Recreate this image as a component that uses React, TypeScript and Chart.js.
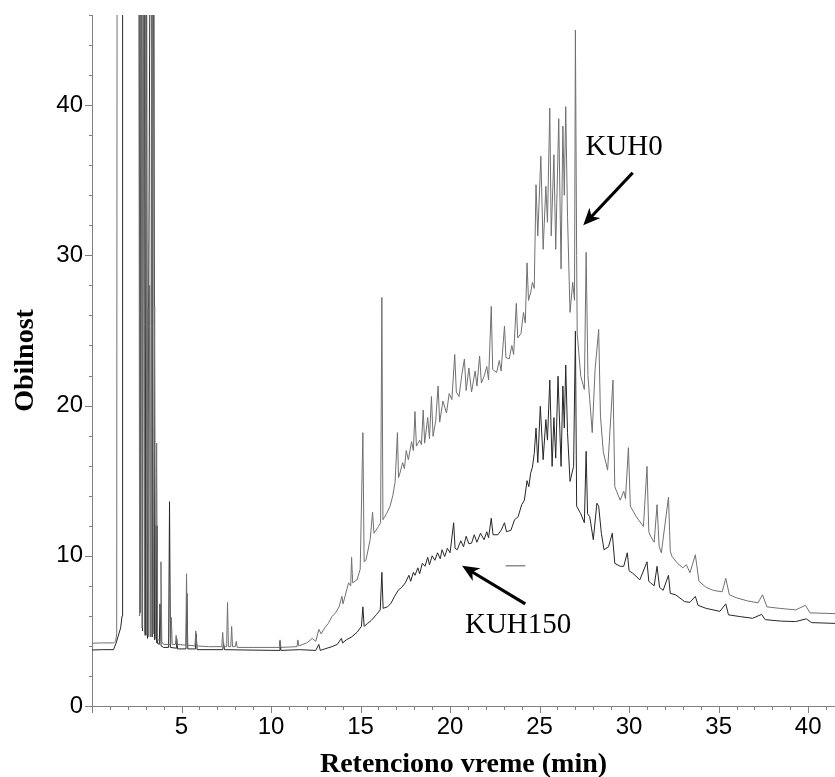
import React, { useEffect, useRef } from 'react';
import { Chart, registerables } from 'chart.js';

Chart.register(...registerables);

// Retention time (min) / abundance pairs
const kuh0: [number, number][] = [
  [0, 4.18], [0.6, 4.2], [1.2, 4.2], [1.32, 4.3], [1.38, 4.8], [1.41, 70],
  [2.6, 70], [2.66, 6.0], [2.72, 70], [2.8, 5.2], [2.86, 70], [2.93, 4.9], [3.0, 70], [3.06, 4.7],
  [3.12, 26.5], [3.17, 4.6], [3.22, 28], [3.27, 4.6], [3.36, 70], [3.42, 4.8], [3.5, 26.6], [3.55, 4.5],
  [3.61, 17.5], [3.66, 4.4], [3.8, 4.4], [3.85, 9.6], [3.9, 4.3], [4.0, 4.1],
  [4.4, 4.1], [4.43, 5.9], [4.48, 4.1], [4.66, 4.1], [4.7, 4.7], [4.75, 4.1], [5.24, 4.05], [5.28, 8.8],
  [5.33, 4.05], [5.75, 4.0], [5.8, 5.0], [5.85, 4.0], [6.5, 3.95], [7.25, 3.95], [7.3, 4.9], [7.35, 3.95],
  [7.52, 3.95], [7.57, 6.9], [7.62, 3.95], [7.75, 3.95], [7.8, 5.3], [7.85, 3.95], [8.0, 3.95], [8.06, 4.3],
  [8.11, 3.9], [9.0, 3.9], [10.45, 3.9], [10.5, 4.4], [10.55, 3.9], [11.45, 3.95], [11.5, 4.4], [11.55, 4.0],
  [12.0, 4.2], [12.3, 4.5], [12.5, 4.3], [12.67, 5.1], [12.8, 4.8], [13.0, 5.2], [13.2, 5.5], [13.4, 5.95],
  [13.6, 6.2], [13.8, 6.6], [13.96, 7.3], [14.02, 6.8], [14.2, 7.6], [14.33, 8.2], [14.45, 8.0], [14.5, 9.9],
  [14.56, 8.2], [14.8, 8.4], [14.98, 9.1], [15.13, 18.2], [15.2, 9.6], [15.3, 9.7], [15.54, 11.1], [15.67, 12.9],
  [15.75, 11.5], [16.0, 11.95], [16.12, 12.2], [16.19, 27.2], [16.25, 12.4], [16.45, 12.8], [16.65, 13.3],
  [16.8, 14.0], [16.93, 14.9], [17.06, 18.2], [17.12, 15.2], [17.2, 15.5], [17.35, 16.2], [17.45, 15.8],
  [17.55, 17.0], [17.67, 16.4], [17.85, 17.6], [17.95, 17.0], [18.04, 19.6], [18.12, 17.3], [18.3, 17.7],
  [18.4, 17.4], [18.5, 19.7], [18.58, 17.5], [18.75, 19.2], [18.85, 17.8], [18.96, 20.6], [19.05, 17.95],
  [19.2, 19.0], [19.33, 21.3], [19.42, 18.9], [19.6, 20.3], [19.8, 19.5], [19.95, 20.8], [20.1, 20.4],
  [20.26, 23.4], [20.35, 20.9], [20.5, 20.6], [20.65, 22.0], [20.8, 23.1], [20.9, 21.0], [21.05, 22.5],
  [21.2, 20.9], [21.4, 22.3], [21.5, 21.3], [21.65, 23.3], [21.75, 21.5], [21.9, 21.95], [22.05, 22.6],
  [22.15, 21.7], [22.3, 26.6], [22.38, 22.4], [22.6, 22.2], [22.75, 23.0], [22.85, 22.3], [23.04, 25.3],
  [23.12, 23.2], [23.3, 23.1], [23.45, 24.0], [23.55, 23.4], [23.7, 26.8], [23.78, 24.5], [23.96, 24.8],
  [24.1, 26.2], [24.2, 25.5], [24.3, 29.5], [24.38, 27.0], [24.5, 27.5], [24.6, 28.2], [24.7, 27.8],
  [24.8, 34.7], [24.9, 31.3], [25.07, 36.6], [25.2, 30.4], [25.35, 34.6], [25.44, 32.2], [25.57, 39.8],
  [25.65, 31.3], [25.8, 36.7], [25.9, 30.4], [26.07, 39.1], [26.2, 29.1], [26.3, 38.6], [26.38, 34.0],
  [26.46, 39.9], [26.56, 32.6], [26.7, 26.2], [26.85, 28.2], [26.95, 27.0], [27.0, 45.0], [27.07, 30.0],
  [27.1, 24.8], [27.3, 21.95], [27.5, 21.07], [27.6, 30.2], [27.7, 22.0], [27.8, 20.4], [27.94, 18.2],
  [28.1, 22.4], [28.3, 25.07], [28.4, 19.3], [28.56, 16.9], [28.8, 15.7], [28.9, 17.7], [29.1, 21.7],
  [29.2, 14.6], [29.5, 13.7], [29.7, 14.3], [29.8, 13.8], [29.96, 17.2], [30.07, 13.3], [30.4, 12.6],
  [30.8, 11.95], [31.0, 15.95], [31.1, 11.6], [31.2, 11.3], [31.4, 10.9], [31.56, 13.4], [31.68, 10.6],
  [31.8, 10.2], [32.2, 13.9], [32.3, 10.3], [32.4, 9.95], [32.7, 9.5], [33.0, 9.2], [33.2, 9.4],
  [33.4, 8.87], [33.7, 10.07], [33.9, 8.3], [34.3, 7.9], [34.7, 7.7], [35.2, 7.6], [35.4, 8.5], [35.6, 7.4],
  [36.0, 7.2], [36.6, 7.0], [37.2, 6.87], [37.45, 7.4], [37.7, 6.6], [38.4, 6.5], [39.3, 6.4], [39.85, 6.7],
  [40.1, 6.2], [41.5, 6.15],
];

const kuh150: [number, number][] = [
  [0, 3.73], [0.6, 3.75], [1.2, 3.75], [1.35, 4.2], [1.45, 4.6], [1.6, 5.2], [1.68, 6.0], [1.71, 70],
  [2.62, 70], [2.68, 6.2], [2.75, 70], [2.82, 5.0], [2.9, 70], [2.97, 4.7], [3.04, 60], [3.1, 4.5],
  [3.3, 70], [3.36, 4.6], [3.44, 70], [3.5, 4.4], [3.58, 12.0], [3.63, 4.2], [3.76, 4.1], [3.8, 6.8],
  [3.86, 4.0], [4.0, 3.9], [4.28, 3.9], [4.33, 13.6], [4.38, 3.9], [4.7, 3.85], [4.73, 4.5], [4.78, 3.8],
  [5.25, 3.8], [5.3, 7.5], [5.35, 3.8], [5.78, 3.8], [5.82, 4.8], [5.87, 3.75], [7.3, 3.75], [7.35, 4.2],
  [7.4, 3.75], [9.0, 3.72], [10.45, 3.7], [10.5, 4.3], [10.55, 3.7], [11.6, 3.75], [12.5, 3.7], [12.67, 4.1],
  [12.75, 3.7], [13.0, 3.8], [13.4, 3.95], [13.7, 4.1], [13.93, 4.5], [14.0, 4.2], [14.2, 4.4], [14.5, 4.6],
  [14.8, 4.9], [15.05, 5.3], [15.13, 6.6], [15.2, 5.3], [15.4, 5.5], [15.6, 5.7], [15.9, 6.1], [16.1, 6.4],
  [16.19, 8.9], [16.26, 6.5], [16.5, 6.6], [16.7, 6.84], [16.9, 7.3], [17.1, 7.7], [17.3, 7.9], [17.5, 8.2],
  [17.7, 8.7], [17.8, 8.3], [17.95, 8.9], [18.04, 8.7], [18.2, 9.2], [18.3, 8.8], [18.45, 9.5], [18.6, 9.3],
  [18.75, 9.9], [18.85, 9.4], [19.0, 10.0], [19.15, 9.7], [19.3, 10.2], [19.45, 9.8], [19.55, 10.4],
  [19.7, 9.95], [19.85, 10.5], [20.0, 10.2], [20.2, 12.2], [20.28, 10.5], [20.4, 10.4], [20.6, 11.0],
  [20.75, 10.6], [20.9, 11.3], [21.05, 10.8], [21.2, 10.84], [21.35, 11.4], [21.5, 10.9], [21.7, 11.5],
  [21.9, 11.07], [22.05, 11.6], [22.15, 11.2], [22.3, 12.5], [22.4, 11.4], [22.67, 11.4], [22.85, 11.7],
  [23.04, 12.2], [23.15, 11.6], [23.4, 11.7], [23.6, 12.4], [23.8, 12.6], [24.0, 13.4], [24.15, 13.7],
  [24.3, 15.0], [24.4, 14.6], [24.5, 15.5], [24.6, 15.9], [24.7, 16.8], [24.8, 18.5], [24.9, 16.2],
  [25.04, 19.95], [25.2, 16.4], [25.35, 19.07], [25.44, 17.7], [25.57, 21.7], [25.7, 15.95], [25.8, 19.2],
  [25.9, 16.5], [26.03, 21.95], [26.2, 15.95], [26.3, 21.3], [26.38, 18.5], [26.46, 22.7], [26.56, 18.2],
  [26.7, 14.95], [26.9, 15.95], [27.0, 24.95], [27.07, 13.3], [27.3, 12.8], [27.5, 12.2], [27.6, 16.95],
  [27.68, 12.8], [27.8, 12.6], [28.0, 11.07], [28.2, 13.5], [28.3, 13.3], [28.45, 11.5], [28.6, 10.4],
  [28.85, 10.6], [29.06, 11.5], [29.2, 9.5], [29.5, 9.3], [29.7, 9.3], [29.9, 10.2], [30.0, 9.0],
  [30.2, 8.84], [30.6, 8.4], [31.0, 9.6], [31.1, 8.3], [31.2, 8.2], [31.4, 8.0], [31.56, 9.3], [31.7, 7.9],
  [31.9, 7.7], [32.2, 8.7], [32.3, 7.5], [32.6, 7.4], [33.1, 6.95], [33.4, 6.9], [33.7, 7.3], [33.85, 6.7],
  [34.3, 6.5], [35.07, 6.3], [35.4, 6.8], [35.55, 6.07], [36.2, 5.95], [36.9, 5.84], [37.4, 6.1],
  [37.6, 5.75], [38.5, 5.65], [39.3, 5.62], [39.9, 5.8], [40.2, 5.55], [41.5, 5.5],
];

// small stray dash visible in the original figure
const strayDash: [number, number][] = [[23.1, 9.33], [24.2, 9.33]];

const xRange = [0, 41.5];
const yRange = [0, 46];
const xStep = 5;
const yStep = 10;
const xTitle = 'Retenciono vreme (min)';
const yTitle = 'Obilnost';

const labels = [
  { text: 'KUH0', tx: 27.56, ty: 36.7, ax0: 30.2, ay0: 35.5, ax1: 27.44, ay1: 32.0 },
  { text: 'KUH150', tx: 20.83, ty: 4.87, ax0: 24.2, ay0: 6.8, ax1: 20.67, ay1: 9.33 },
];

const AXIS_COLOR = '#808080';

const minorTicksPlugin = {
  id: 'minorTicks',
  afterDraw(chart: any) {
    const { ctx, scales } = chart;
    const x = scales.x;
    const y = scales.y;
    ctx.save();
    ctx.strokeStyle = AXIS_COLOR;
    ctx.lineWidth = 1;
    for (let v = Math.ceil(xRange[0]); v <= Math.floor(xRange[1]); v++) {
      const px = Math.round(x.getPixelForValue(v)) + 0.5;
      const len = v % 5 === 0 ? 7 : 4;
      ctx.beginPath();
      ctx.moveTo(px, y.bottom);
      ctx.lineTo(px, y.bottom + len);
      ctx.stroke();
    }
    for (let v = yRange[0]; v <= yRange[1]; v += 2) {
      const py = Math.round(y.getPixelForValue(v)) + 0.5;
      const len = v % 10 === 0 ? 7 : 3;
      ctx.beginPath();
      ctx.moveTo(x.left, py);
      ctx.lineTo(x.left - len, py);
      ctx.stroke();
    }
    ctx.restore();
  },
};

const annotationPlugin = {
  id: 'arrowLabels',
  afterDatasetsDraw(chart: any) {
    const { ctx, scales } = chart;
    const x = scales.x;
    const y = scales.y;
    ctx.save();
    ctx.fillStyle = '#000';
    ctx.strokeStyle = '#000';
    ctx.font = '29px "Liberation Serif", "Times New Roman", serif';
    ctx.textBaseline = 'alphabetic';
    ctx.textAlign = 'left';
    for (const l of labels) {
      ctx.fillText(l.text, x.getPixelForValue(l.tx), y.getPixelForValue(l.ty));
      const x0 = x.getPixelForValue(l.ax0);
      const y0 = y.getPixelForValue(l.ay0);
      const x1 = x.getPixelForValue(l.ax1);
      const y1 = y.getPixelForValue(l.ay1);
      const ang = Math.atan2(y1 - y0, x1 - x0);
      const headLen = 17;
      const headW = 7.5;
      const bx = x1 - Math.cos(ang) * headLen;
      const by = y1 - Math.sin(ang) * headLen;
      ctx.lineWidth = 3.2;
      ctx.beginPath();
      ctx.moveTo(x0, y0);
      ctx.lineTo(x1 - Math.cos(ang) * 10, y1 - Math.sin(ang) * 10);
      ctx.stroke();
      const nx = -Math.sin(ang);
      const ny = Math.cos(ang);
      ctx.beginPath();
      ctx.moveTo(x1, y1);
      ctx.lineTo(bx + nx * headW, by + ny * headW);
      ctx.lineTo(x1 - Math.cos(ang) * 12, y1 - Math.sin(ang) * 12);
      ctx.lineTo(bx - nx * headW, by - ny * headW);
      ctx.closePath();
      ctx.fill();
    }
    ctx.restore();
  },
};

const toPoints = (arr: [number, number][]) => arr.map(([xv, yv]) => ({ x: xv, y: yv }));

export default function App() {
  const canvasRef = useRef<HTMLCanvasElement | null>(null);

  useEffect(() => {
    document.body.style.margin = '0';
    const canvas = canvasRef.current;
    if (!canvas) return;
    const chart = new Chart(canvas, {
      type: 'line',
      data: {
        datasets: [
          {
            label: 'KUH0',
            data: toPoints(kuh0),
            borderColor: '#707070',
            borderWidth: 1,
            pointRadius: 0,
            tension: 0,
          },
          {
            label: 'KUH150',
            data: toPoints(kuh150),
            borderColor: '#262626',
            borderWidth: 1,
            pointRadius: 0,
            tension: 0,
          },
          {
            label: 'dash',
            data: toPoints(strayDash),
            borderColor: '#555',
            borderWidth: 1,
            pointRadius: 0,
          },
        ],
      },
      options: {
        animation: false,
        responsive: true,
        maintainAspectRatio: false,
        layout: { padding: { top: 15, right: 0, left: 0, bottom: 0 } },
        plugins: {
          legend: { display: false },
          tooltip: { enabled: false },
        },
        scales: {
          x: {
            type: 'linear',
            min: xRange[0],
            max: xRange[1],
            grid: { display: false, drawTicks: false },
            border: { display: true, color: AXIS_COLOR, width: 1 },
            afterFit: (s: any) => { s.height = 71; s.paddingLeft = 0; s.paddingRight = 0; },
            ticks: {
              stepSize: xStep,
              includeBounds: false,
              autoSkip: false,
              maxRotation: 0,
              padding: 7,
              color: '#000',
              font: { family: '"Liberation Sans", Arial, sans-serif', size: 24 },
              callback: (v: any) => (Number(v) === 0 ? '' : String(v)),
            },
            title: {
              display: true,
              text: xTitle,
              color: '#000',
              font: { family: '"Liberation Serif", "Times New Roman", serif', size: 28, weight: 'bold', lineHeight: 0.85 },
              padding: { top: 0, bottom: 0 },
            },
          },
          y: {
            type: 'linear',
            min: yRange[0],
            max: yRange[1],
            grid: { display: false, drawTicks: false },
            border: { display: true, color: AXIS_COLOR, width: 1 },
            afterFit: (s: any) => { s.width = 92; s.paddingTop = 0; s.paddingBottom = 0; },
            ticks: {
              stepSize: yStep,
              includeBounds: false,
              padding: 9,
              color: '#000',
              font: { family: '"Liberation Sans", Arial, sans-serif', size: 24 },
            },
            title: {
              display: true,
              text: yTitle,
              color: '#000',
              font: { family: '"Liberation Serif", "Times New Roman", serif', size: 28, weight: 'bold', lineHeight: 0.85 },
              padding: { top: 14, bottom: 0 },
            },
          },
        },
      } as any,
      plugins: [minorTicksPlugin, annotationPlugin],
    });
    return () => chart.destroy();
  }, []);

  return (
    <div style={{ position: 'absolute', left: 0, top: 0, width: 835, height: 777 }}>
      <canvas ref={canvasRef} />
    </div>
  );
}
